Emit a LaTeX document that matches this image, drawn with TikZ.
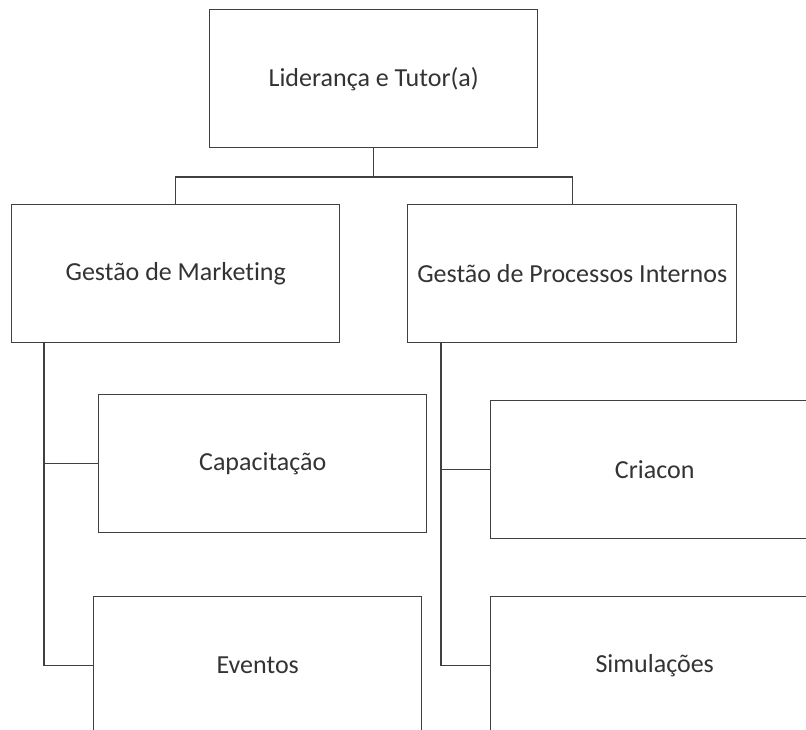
\documentclass[tikz,border=0pt]{standalone}
\usepackage{fontspec}
\setmainfont{Carlito}[Ligatures=NoCommon]
\newcommand{\px}{0.75pt}
\definecolor{boxline}{HTML}{404040}
\definecolor{boxtext}{HTML}{333333}

\begin{document}
\begin{tikzpicture}[rect/.style={draw=boxline, line width=1.1pt, rectangle, anchor=north west, minimum width=328*\px, minimum height=138*\px, inner sep=0pt, text=boxtext, font=\fontsize{19.5}{23}\selectfont},
    link/.style={draw=boxline, line width=0.9pt}]
    \useasboundingbox (0,0) rectangle (806*\px,-730*\px);
    \clip (0,0) rectangle (806*\px,-730*\px);

    % Top
    \node[rect] (lider) at (209*\px,-9*\px) {Lideran\c{c}a e Tutor(a)};

    % Second row
    \node[rect] (mkt) at (11*\px,-204*\px) {Gestão de Marketing};
    \node[rect, minimum width=329*\px] (proc) at (407*\px,-204*\px) {Gestão de Processos Internos};

    % Marketing
    \node[rect] (cap) at (98*\px,-394*\px) {Capacitação};
    \node[rect] (evt) at (93*\px,-596*\px) {Eventos};

    % Processos
    \node[rect] (cria) at (490*\px,-400*\px) {Criacon};
    \node[rect] (simu) at (490*\px,-596*\px) {Simulações};

    \coordinate (mktbar) at (44*\px,-342*\px);
    \coordinate (procbar) at (441*\px,-342*\px);
    \coordinate (top) at (lider.south |- 0,-177*\px);

    \draw[link] (lider.south) -- (top);
    \draw[link] (top) -| (mkt.north);
    \draw[link] (top) -| (proc.north);

    \draw[link] (mktbar) |- (cap.west);
    \draw[link] (mktbar) |- (evt.west);
    \draw[link] (procbar) |- (cria.west);
    \draw[link] (procbar) |- (simu.west);

\end{tikzpicture}
\end{document}
